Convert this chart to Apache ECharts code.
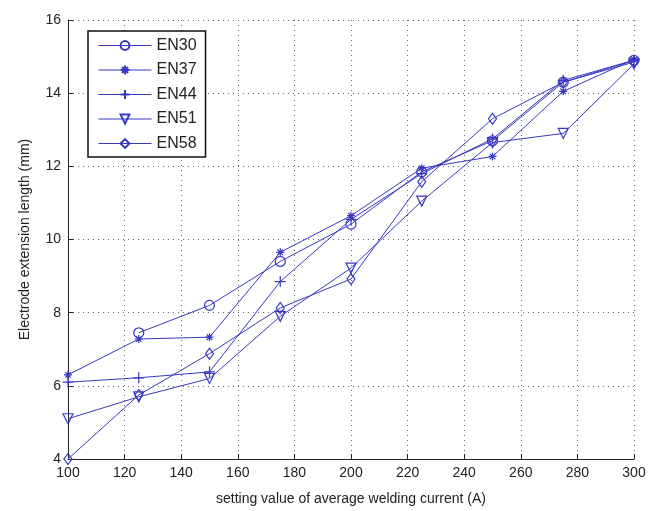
<!DOCTYPE html>
<html>
<head>
<meta charset="utf-8">
<script src="https://cdn.jsdelivr.net/npm/echarts@6/dist/echarts.min.js"></script>
<style>html,body{margin:0;padding:0;background:#fff;}#c{width:659px;height:511px;}</style>
</head>
<body>
<div id="c"></div>
<script>
var currents = [100, 125, 150, 175, 200, 225, 250, 275, 300];
var seriesNames = ['EN30', 'EN37', 'EN44', 'EN51', 'EN58'];
var en30 = [null, 7.45, 8.2, 9.4, 10.42, 11.85, 12.7, 14.3, 14.9];
var en37 = [6.3, 7.28, 7.33, 9.65, 10.65, 11.95, 12.27, 14.05, 14.92];
var en44 = [6.1, 6.22, 6.38, 8.85, 10.55, 11.8, 12.75, 14.35, 14.9];
var en51 = [5.1, 5.7, 6.2, 7.9, 9.22, 11.05, 12.65, 12.9, 14.8];
var en58 = [4.0, 5.75, 6.88, 8.13, 8.92, 11.58, 13.3, 14.3, 14.85];
var xTicks = [100, 120, 140, 160, 180, 200, 220, 240, 260, 280, 300];
var yTicks = [4, 6, 8, 10, 12, 14, 16];

var BLUE = '#3838c4';
var symbols = [
  'circle',
  'path://M0,5L10,5M5,0L5,10M1.5,1.5L8.5,8.5M8.5,1.5L1.5,8.5',
  'path://M0,5L10,5M5,0L5,10',
  'path://M0,0L10,0L5,9Z',
  'diamond'
];
var sizes = [10, 8, 11, 10, 9];
var datas = [en30, en37, en44, en51, en58];

function pairs(arr) { return currents.map(function (c, i) { return [c, arr[i]]; }); }

var font = 'Liberation Sans, Arial, sans-serif';
var series = seriesNames.map(function (n, k) {
  return {
    name: n,
    type: 'line',
    data: pairs(datas[k]),
    symbol: symbols[k],
    symbolSize: k === 4 ? [8, 11] : sizes[k],
    lineStyle: { color: BLUE, width: 1 },
    itemStyle: { color: (k === 1) ? BLUE : 'rgba(255,255,255,0)', borderColor: BLUE, borderWidth: 1.2 },
    emphasis: { disabled: true },
    animation: false,
    z: 3
  };
});

var chart = echarts.init(document.getElementById('c'), null, { renderer: 'canvas' });
chart.setOption({
  backgroundColor: '#fff',
  animation: false,
  textStyle: { fontFamily: font },
  grid: { left: 68, right: 25, top: 20, bottom: 47, containLabel: false },
  legend: {
    data: seriesNames,
    orient: 'vertical',
    left: 88,
    top: 31,
    itemWidth: 53,
    itemHeight: 11,
    itemGap: 7.5,
    padding: [6, 9, 5, 10],
    backgroundColor: '#fff',
    borderColor: '#111',
    borderWidth: 1.5,
    lineStyle: { width: 1 },
    textStyle: { fontSize: 16, lineHeight: 17, color: '#222', fontFamily: font },
    z: 10
  },
  xAxis: [{
    type: 'value', min: 100, max: 300, interval: 20,
    name: 'setting value of average welding current (A)',
    nameLocation: 'middle', nameGap: 33,
    nameTextStyle: { fontSize: 14, color: '#222', fontFamily: font },
    axisLine: { lineStyle: { color: '#222', width: 1 } },
    axisTick: { inside: true, length: 5, lineStyle: { color: '#222' } },
    axisLabel: { fontSize: 14, color: '#222', margin: 7, fontFamily: font,
      formatter: function (v) { return xTicks.indexOf(v) >= 0 ? String(v) : ''; } },
    splitLine: { show: true, lineStyle: { color: '#666', type: [1, 4], width: 1 } }
  }],
  yAxis: [{
    type: 'value', min: 4, max: 16, interval: 2,
    name: 'Electrode extension length (mm)',
    nameLocation: 'middle', nameGap: 36, nameRotate: 90,
    nameTextStyle: { fontSize: 14, color: '#222', fontFamily: font },
    axisLine: { show: true, lineStyle: { color: '#222', width: 1 } },
    axisTick: { show: true, inside: true, length: 5, lineStyle: { color: '#222' } },
    axisLabel: { fontSize: 14, color: '#222', margin: 7, fontFamily: font,
      formatter: function (v) { return yTicks.indexOf(v) >= 0 ? String(v) : ''; } },
    splitLine: { show: true, lineStyle: { color: '#666', type: [1, 4], width: 1 } }
  }],
  series: series
});
</script>
</body>
</html>
